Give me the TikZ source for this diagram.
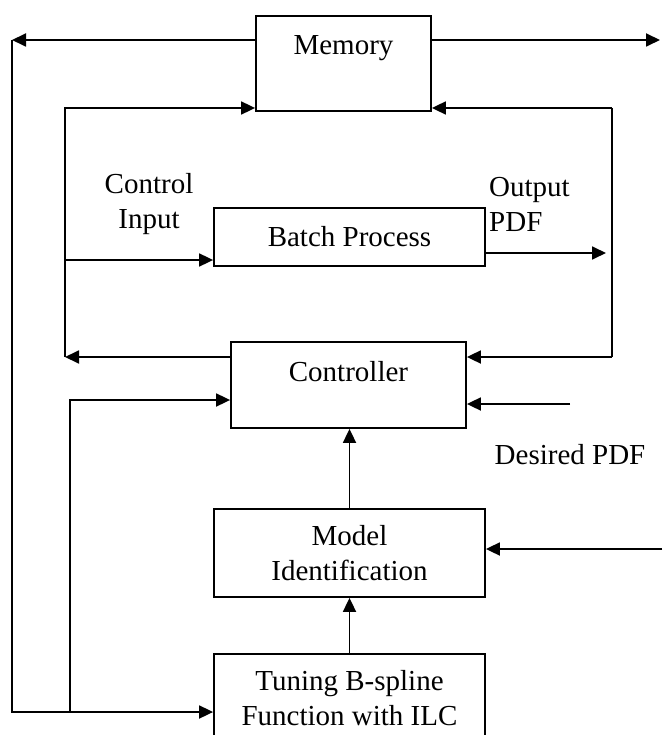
\documentclass[tikz,border=0pt]{standalone}
\usepackage{fontspec}
\setmainfont{Liberation Serif}
\usetikzlibrary{arrows.meta}
\tikzset{
	blk/.style={draw, line width=1.8pt, inner sep=0pt, align=center, font=\fontsize{29}{35}\selectfont},
	lbl/.style={inner sep=0pt, align=center, font=\fontsize{29}{35}\selectfont},
	wire/.style={line width=1.8pt},
	arr/.style={wire, -{Triangle[length=14pt,width=13pt]}},
}

\begin{document}
\begin{tikzpicture}[x=1pt, y=-1pt]
			%%%%% START %%%%%
			\useasboundingbox (0, 0) rectangle (662, 735);
			
			\node[blk, minimum width=175pt, text height=38.5pt, text depth=56.5pt] (mem) at (343.5, 63.5) {Memory};
			\node[blk, minimum width=271pt, minimum height=58pt] (bat) at (349.5, 237) {Batch Process};
			\node[blk, minimum width=235pt, text height=39pt, text depth=47pt] (ctrl) at (348.5, 385) {Controller};
			\node[blk, minimum width=271pt, minimum height=88pt] (mdl) at (349.5, 553) {Model\\Identification};
			\node[blk, minimum width=271pt, minimum height=88pt] (tun) at (349.5, 698) {Tuning B-spline\\Function with ILC};
			
			\node[lbl] (cin) at (149, 204) {Control\\Input};
			\node[lbl, anchor=west, align=left] (opdf) at (489, 204) {Output\\PDF};
			\node[lbl] (dpdf) at (570, 455) {Desired PDF};
			
			\coordinate (tl) at (12, 40);
			\coordinate (tr) at (660, 40);
			\coordinate (bl) at (12, 712);
			\coordinate (bi) at (70, 712);
			\coordinate (ci) at (70, 400);
			\coordinate (il) at (65, 108);
			\coordinate (ir) at (612, 108);
			\coordinate (cl) at (65, 357);
			\coordinate (cr) at (612, 357);
			\coordinate (ul) at (65, 260);
			\coordinate (op) at (606, 253);
			\coordinate (dp) at (570, 404);
			\coordinate (mi) at (662, 549);
			
			% outer loop round memory
			\draw[arr] (mem.west |- tl) -- (tl);
			\draw[arr] (mem.east |- tr) -- (tr);
			\draw[arr] (tl) -- (bl) -- (tun.west |- bl);
			\draw[arr] (bi) -- (ci) -- (ctrl.west |- ci);
			
			% inner loop
			\draw[arr] (ctrl.west |- cl) -- (cl);
			\draw[arr] (cl) -- (il) -- (mem.west |- il);
			\draw[arr] (ul) -- (bat.west |- ul);
			\draw[arr] (bat.east |- op) -- (op);
			\draw[wire] (ir) -- (cr);
			\draw[arr] (ir) -- (mem.east |- ir);
			\draw[arr] (cr) -- (ctrl.east |- cr);
			
			\draw[arr] (dp) -- (ctrl.east |- dp);
			\draw[arr] (mdl.north) -- (mdl.north |- ctrl.south);
			\draw[arr] (mi) -- (mdl.east |- mi);
			\draw[arr] (tun.north) -- (mdl.south);
			
			%%%%% END %%%%%
\end{tikzpicture}
\end{document}
